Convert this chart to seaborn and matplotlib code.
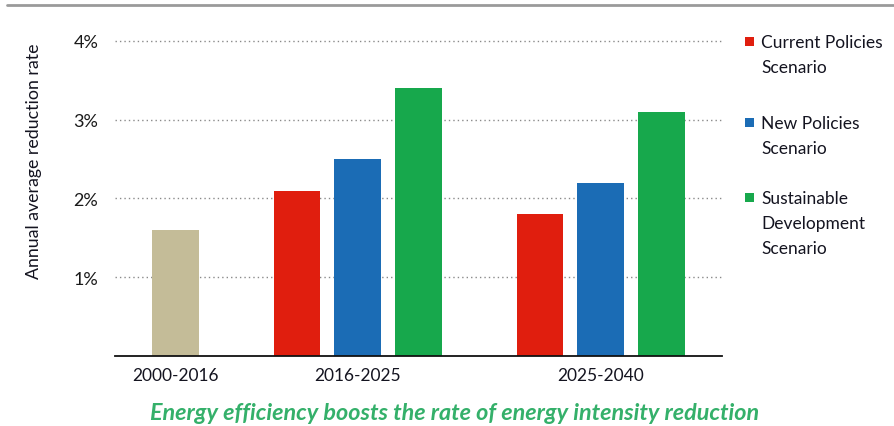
import matplotlib
matplotlib.use("Agg")
import matplotlib.pyplot as plt
from matplotlib.patches import Rectangle
from matplotlib.lines import Line2D
import numpy as np
import pandas as pd
import seaborn as sns

# ---- data -------------------------------------------------------------
periods = ["2000-2016", "2016-2025", "2025-2040"]
historical_label = "Historical"
historical = [1.6]                       # 2000-2016
scenarios = ["Current Policies Scenario", "New Policies Scenario",
             "Sustainable Development Scenario"]
legend_labels = ["Current Policies\nScenario", "New Policies\nScenario",
                 "Sustainable\nDevelopment\nScenario"]
current_policies = [2.1, 1.8]            # 2016-2025, 2025-2040
new_policies = [2.5, 2.2]
sustainable_dev = [3.4, 3.1]
yticks = [1, 2, 3, 4]
ytick_labels = ["1%", "2%", "3%", "4%"]

colors = {historical_label: "#C4BC98",
          scenarios[0]: "#E01E0E",
          scenarios[1]: "#1B6CB5",
          scenarios[2]: "#17A84C"}

# ---- long-form table: one slot per bar, one empty slot between periods --
groups = [[(historical_label, historical[0])]]
for i in range(2):
    groups.append([(scenarios[0], current_policies[i]),
                   (scenarios[1], new_policies[i]),
                   (scenarios[2], sustainable_dev[i])])

rows, centers, separators = [], [], []
slot = 0
separators.append(slot - 1)
for period, bars in zip(periods, groups):
    slots = []
    for series, value in bars:
        rows.append({"period": period, "series": series,
                     "slot": slot, "value": value})
        slots.append(slot)
        slot += 1
    centers.append(np.mean(slots))
    separators.append(slot)
    slot += 1
df = pd.DataFrame(rows)

# ---- figure -----------------------------------------------------------
sns.set_style("white")
plt.rcParams["font.family"] = ["Lato", "DejaVu Sans"]

W, H = 895, 427
fig = plt.figure(figsize=(W / 100, H / 100), dpi=100)

ymax = 4.1
px_per_unit = (357 - 42) / 4.0
ax_left, ax_right, ax_bottom = 115, 722, 357
ax_top = ax_bottom - ymax * px_per_unit
ax = fig.add_axes([ax_left / W, 1 - ax_bottom / H,
                   (ax_right - ax_left) / W, (ax_bottom - ax_top) / H])

sns.barplot(data=df, x="slot", y="value", hue="series", palette=colors,
            native_scale=True, dodge=False, width=0.77, saturation=1,
            linewidth=0, legend=False, ax=ax)

ax.set_xlim(separators[0], separators[-1])
ax.set_ylim(0, ymax)

# dotted horizontal gridlines
ax.set_yticks(yticks, ytick_labels)
ax.yaxis.grid(True, linestyle=(0, (1, 2.2)), color="#8a8a8a", linewidth=1.0)
ax.xaxis.grid(False)
ax.set_axisbelow(True)

for side in ["top", "right", "left"]:
    ax.spines[side].set_visible(False)
ax.spines["bottom"].set_color("#111111")
ax.spines["bottom"].set_linewidth(1.3)

ax.tick_params(axis="y", length=0, pad=12, labelsize=13,
               labelcolor="#1a1a1a")
ax.set_xticks(centers, periods)
ax.set_xticks(separators, minor=True)
ax.tick_params(axis="x", which="major", length=0, pad=8, labelsize=12.5,
               labelcolor="#141420")
ax.tick_params(axis="x", which="minor", length=6, width=1.3,
               color="#111111", direction="out")
ax.set_xlabel("")
ax.set_ylabel("Annual average reduction rate", fontsize=12.8,
              color="#141420")
# label's right edge at x≈42 px, centred at y≈161 px (figure pixels)
ax.yaxis.set_label_coords((42 - ax_left) / (ax_right - ax_left),
                          (ax_bottom - 161) / (ax_bottom - ax_top))

# legend for the three scenarios
leg_rows_top = [35, 116, 191]
for series, label, top in zip(scenarios, legend_labels, leg_rows_top):
    fig.add_artist(Rectangle((745 / W, 1 - (top + 12) / H), 9 / W, 9 / H,
                             transform=fig.transFigure,
                             color=colors[series], lw=0))
    fig.text(761 / W, 1 - top / H, label, ha="left", va="top",
             fontsize=12.5, color="#141420", linespacing=1.68)

# thin rule along the top
fig.add_artist(Line2D([7 / W, 1.0], [1 - 6 / H, 1 - 6 / H],
                      transform=fig.transFigure, color="#9a9a9a",
                      linewidth=2))

# caption
fig.text(455 / W, 1 - 414 / H,
         "Energy efficiency boosts the rate of energy intensity reduction",
         ha="center", va="center", fontsize=16.8, fontstyle="italic",
         fontweight="bold", color="#34B06A")

fig.savefig("out.png", dpi=100)
